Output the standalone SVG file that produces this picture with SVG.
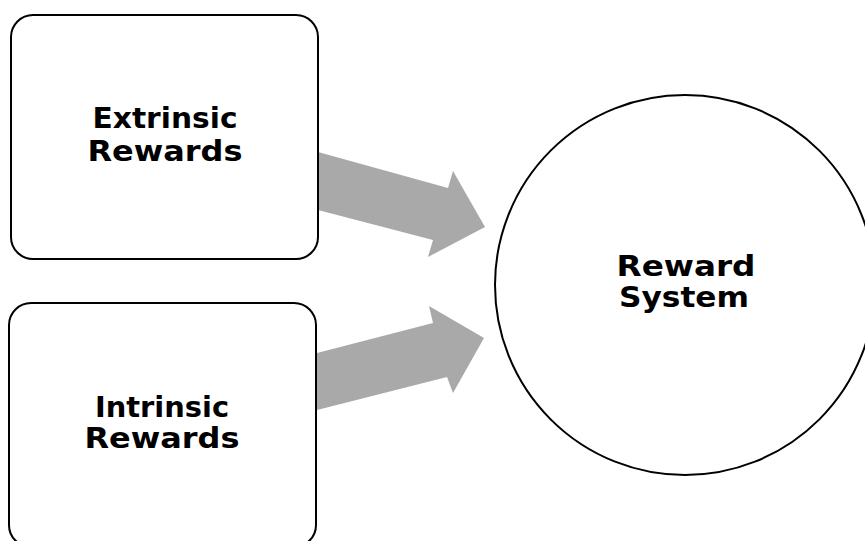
<svg xmlns="http://www.w3.org/2000/svg" width="865" height="541" viewBox="0 0 865 541">
<style>
.box{fill:#fff;stroke:#000;stroke-width:2}
.lbl{font-family:"DejaVu Sans","Liberation Sans",sans-serif;font-weight:bold;font-size:29px;fill:#000;text-anchor:middle}
.arrow{fill:#a9a9a9;stroke:none}
</style>
<rect width="865" height="541" fill="#fff"/>
<g id="connectors">
<polygon class="arrow" points="318,152 448,188 453,171 485,227 428,257 433,240 318,210"/>
<polygon class="arrow" points="317,353 433,323 429,306 484,338 453,393 447,377 317,410"/>
</g>
<g id="extrinsic">
<rect class="box" x="11" y="15" width="307" height="244" rx="22"/>
<text class="lbl" x="165" y="128" textLength="145" lengthAdjust="spacingAndGlyphs">Extrinsic</text>
<text class="lbl" x="165" y="161" textLength="155" lengthAdjust="spacingAndGlyphs">Rewards</text>
</g>
<g id="intrinsic">
<rect class="box" x="9" y="303" width="307" height="244" rx="22"/>
<text class="lbl" x="162" y="417" textLength="134" lengthAdjust="spacingAndGlyphs">Intrinsic</text>
<text class="lbl" x="162" y="448" textLength="155" lengthAdjust="spacingAndGlyphs">Rewards</text>
</g>
<g id="reward-system">
<circle class="box" cx="685" cy="285" r="190"/>
<text class="lbl" x="686" y="276" textLength="139" lengthAdjust="spacingAndGlyphs">Reward</text>
<text class="lbl" x="684" y="307" textLength="130" lengthAdjust="spacingAndGlyphs">System</text>
</g>
</svg>
